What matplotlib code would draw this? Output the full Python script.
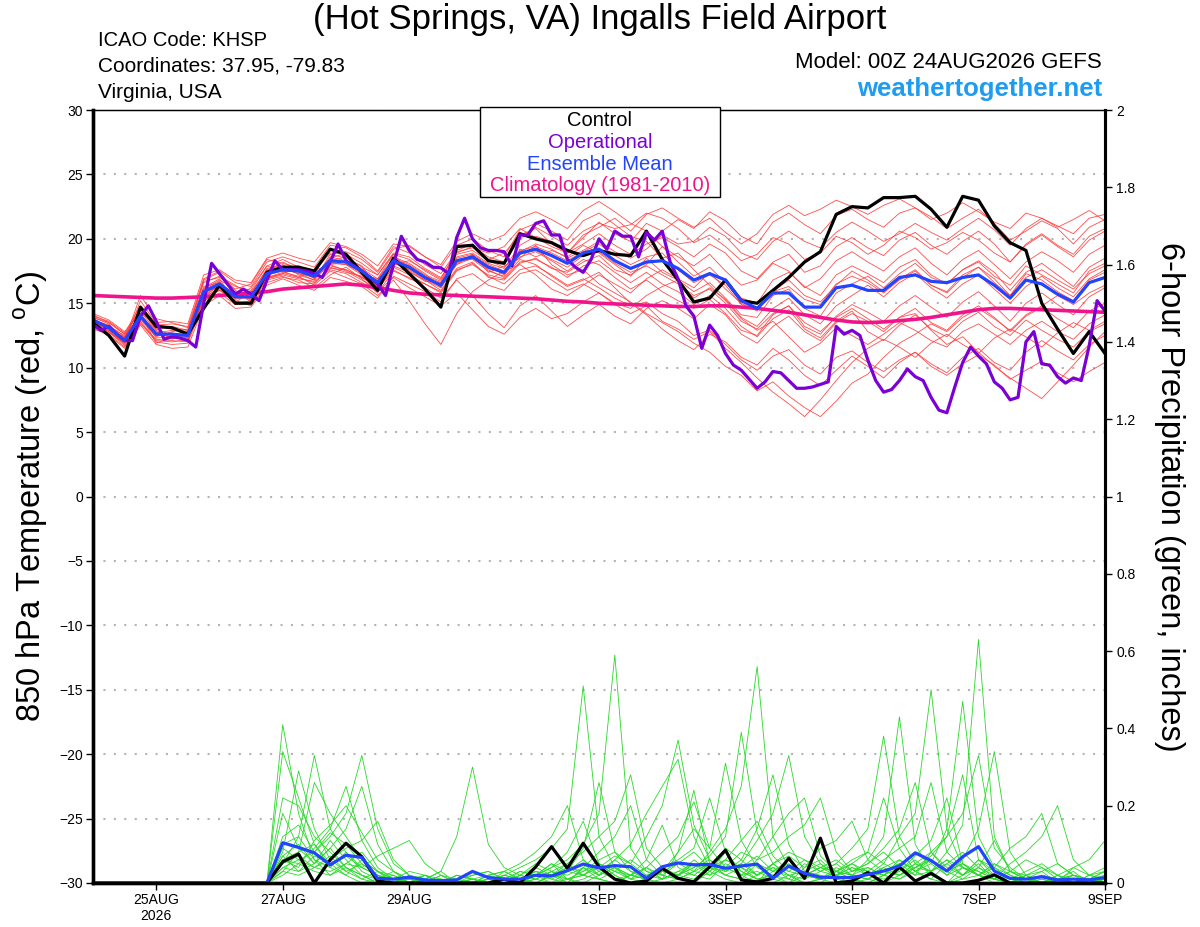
import numpy as np
import matplotlib
matplotlib.use('Agg')
import matplotlib.pyplot as plt
from matplotlib.patches import Rectangle

plt.rcParams['font.family'] = ['Liberation Sans', 'DejaVu Sans']
plt.rcParams['mathtext.fontset'] = 'custom'
plt.rcParams['mathtext.rm'] = 'Liberation Sans'

# forecast starts 00Z 24AUG2026, ensemble every 6h, operational every 3h
tick_hours = [24, 72, 120, 192, 240, 288, 336, 384]
tick_labels = ['25AUG\n2026', '27AUG', '29AUG', '1SEP', '3SEP', '5SEP', '7SEP', '9SEP']

control_t = [13.5, 12.5, 10.9, 14.7, 13.2, 13.1, 12.6, 14.6, 16.4, 15.0, 15.0, 17.4, 17.8,
             17.8, 17.5, 19.2, 18.8, 17.4, 16.0, 18.5, 17.3, 16.1, 14.7, 19.4, 19.5,
             18.3, 18.1, 20.4, 20.0, 19.7, 19.1, 18.7, 19.1, 18.8, 18.7, 20.6, 18.4,
             16.8, 15.1, 15.4, 16.8, 15.2, 15.0, 16.0, 17.0, 18.2, 19.0, 21.9, 22.5,
             22.4, 23.2, 23.2, 23.3, 22.3, 20.9, 23.3, 23.0, 21.0, 19.7, 19.1, 15.0, 13.0, 11.1, 12.8, 11.1]

ens_mean_t = [13.7, 13.1, 12.1, 14.0, 12.6, 12.6, 12.5, 15.9, 16.5, 15.5, 15.5, 17.3, 17.6,
              17.5, 17.1, 18.3, 18.2, 17.5, 16.6, 18.3, 17.8, 17.0, 16.4, 18.3, 18.6,
              17.8, 17.4, 18.9, 19.2, 18.7, 18.1, 18.9, 19.2, 18.3, 17.7, 18.2, 18.3,
              17.7, 16.8, 17.3, 16.8, 15.2, 14.6, 15.8, 15.8, 14.7, 14.7, 16.2, 16.4,
              16.0, 16.0, 17.0, 17.2, 16.7, 16.6, 17.0, 17.2, 16.4, 15.4, 16.8, 16.5, 15.7, 15.1, 16.6, 17.0]

climo_t = [15.6, 15.55, 15.5, 15.45, 15.4, 15.4, 15.45, 15.5, 15.6, 15.7, 15.8, 15.9, 16.1,
           16.2, 16.3, 16.4, 16.5, 16.4, 16.2, 16.0, 15.8, 15.7, 15.65, 15.6, 15.55,
           15.5, 15.45, 15.4, 15.35, 15.25, 15.15, 15.1, 15.0, 14.95, 14.9, 14.85, 14.8,
           14.75, 14.75, 14.8, 14.8, 14.7, 14.6, 14.45, 14.3, 14.1, 13.9, 13.7, 13.55,
           13.5, 13.55, 13.65, 13.75, 13.9, 14.1, 14.3, 14.5, 14.6, 14.6, 14.55, 14.5, 14.45, 14.4, 14.35, 14.3]

operational_t = [13.35, 12.9, 13.2, 12.6, 12.1, 12.1, 14.0, 14.8, 13.6, 12.2,
                 12.4, 12.3, 12.1, 11.6, 15.0, 18.1, 17.3, 16.5, 15.7, 16.1,
                 15.7, 15.2, 16.8, 18.3, 17.6, 17.6, 17.6, 17.5, 17.3, 17.0,
                 18.2, 19.6, 18.3, 17.9, 17.5, 17.0, 16.5, 15.6, 18.0, 20.2,
                 19.1, 18.4, 18.2, 17.8, 17.75, 17.3, 20.1, 21.6, 20.0, 19.3,
                 19.1, 19.1, 19.0, 17.9, 20.3, 20.3, 21.2, 21.4, 20.3, 20.3,
                 18.4, 17.8, 17.4, 18.4, 20.0, 19.2, 20.6, 20.2, 20.2, 18.6,
                 20.5, 19.9, 20.6, 18.2, 16.9, 14.8, 14.0, 11.5, 13.3, 12.5,
                 11.1, 10.2, 9.8, 9.1, 8.4, 8.9, 9.7, 9.6, 9.0, 8.4,
                 8.4, 8.5, 8.7, 8.9, 13.2, 12.6, 12.9, 12.5, 10.6, 9.0,
                 8.1, 8.3, 9.0, 9.9, 9.3, 9.0, 7.7, 6.7, 6.5, 8.5,
                 10.4, 11.6, 10.9, 10.3, 8.9, 8.4, 7.5, 7.7, 12.0, 12.8,
                 10.3, 10.2, 9.3, 8.8, 9.2, 9.0, 11.7, 15.2, 14.4]

temp_members = [
    [13.5, 13.0, 12.4, 14.6, 12.9, 12.2, 12.8, 16.2, 16.9, 15.1, 15.8, 17.6, 18.0,
     17.2, 16.8, 18.8, 18.5, 17.9, 16.2, 18.0, 18.3, 17.6, 16.9, 19.1, 19.6,
     18.4, 18.9, 20.3, 20.8, 19.6, 18.9, 20.1, 21.3, 20.4, 19.8, 21.2, 20.6,
     21.5, 20.8, 22.1, 21.4, 20.2, 19.6, 21.3, 22.0, 21.1, 20.4, 21.8, 22.3,
     21.5, 20.9, 22.0, 22.4, 21.7, 20.8, 21.6, 22.3, 21.2, 19.9, 20.6, 21.4, 20.8, 19.6, 20.9, 21.5],
    [13.8, 12.9, 11.8, 13.6, 12.1, 12.0, 12.2, 15.4, 16.2, 15.9, 15.1, 17.0, 17.3,
     17.8, 17.4, 18.0, 17.5, 16.8, 16.1, 17.6, 16.9, 16.5, 15.8, 17.5, 18.1,
     17.1, 16.5, 17.6, 17.9, 17.2, 16.4, 16.9, 16.2, 15.4, 14.8, 15.1, 14.2,
     13.6, 12.5, 12.9, 11.8, 10.6, 9.8, 10.9, 11.4, 10.2, 9.5, 10.8, 11.3,
     10.4, 9.7, 10.6, 11.2, 10.1, 9.4, 10.3, 11.0, 10.2, 9.1, 9.8, 10.5, 9.6, 8.9, 9.7, 10.4],
    [14.1, 13.5, 12.6, 13.9, 13.0, 13.2, 12.9, 16.8, 17.4, 16.0, 15.2, 17.5, 18.2,
     17.6, 16.9, 18.5, 18.9, 17.2, 16.9, 18.8, 17.5, 16.7, 16.6, 18.0, 18.8,
     17.4, 17.9, 18.5, 19.5, 18.0, 17.2, 17.6, 16.5, 15.8, 15.1, 14.2, 13.5,
     12.8, 11.9, 11.2, 10.1, 9.4, 8.2, 8.9, 7.8, 6.9, 6.2, 7.4, 8.8,
     9.5, 10.8, 11.9, 12.6, 13.4, 12.8, 13.9, 14.6, 13.8, 12.9, 14.1, 14.8, 15.6, 14.9, 15.8, 16.4],
    [13.2, 12.8, 12.0, 15.2, 13.4, 13.0, 12.5, 15.6, 16.0, 15.4, 16.2, 17.9, 17.5,
     17.0, 17.6, 17.9, 17.6, 17.0, 16.5, 18.6, 18.1, 17.3, 16.2, 18.3, 18.4,
     17.5, 17.1, 19.2, 18.6, 19.1, 18.6, 19.5, 18.9, 18.0, 17.1, 18.5, 17.4,
     16.8, 15.9, 16.6, 15.4, 14.1, 13.9, 15.6, 16.1, 14.6, 14.0, 15.8, 16.5,
     17.1, 16.2, 17.3, 18.1, 17.0, 16.5, 17.6, 18.2, 17.1, 16.4, 17.9, 17.2, 16.5, 15.8, 17.5, 18.1],
    [13.6, 13.3, 12.2, 13.8, 12.4, 12.8, 13.0, 16.6, 17.1, 16.4, 15.6, 17.1, 17.8,
     17.9, 17.3, 19.2, 19.0, 18.4, 17.4, 19.2, 19.5, 18.6, 17.8, 19.5, 20.0,
     19.1, 18.6, 20.7, 21.2, 20.6, 19.9, 21.4, 22.0, 21.1, 20.2, 19.8, 18.5,
     18.9, 17.6, 16.4, 15.2, 13.8, 12.9, 13.6, 12.4, 11.2, 11.9, 13.1, 12.5,
     11.8, 12.6, 13.5, 12.9, 12.1, 11.6, 12.8, 13.4, 12.6, 11.8, 12.9, 13.6, 12.8, 12.2, 13.4, 14.1],
    [13.4, 13.2, 12.5, 14.1, 11.9, 12.4, 12.1, 15.2, 15.8, 14.9, 15.0, 16.8, 17.1,
     16.6, 16.5, 17.8, 17.4, 17.1, 16.0, 17.9, 17.4, 16.8, 16.0, 17.7, 18.2,
     17.0, 16.8, 18.1, 18.5, 17.7, 17.4, 18.2, 18.7, 17.6, 17.2, 18.0, 19.4,
     18.6, 17.9, 18.8, 17.5, 16.4, 16.8, 18.1, 17.5, 16.2, 16.9, 18.3, 19.0,
     18.2, 17.5, 18.6, 19.3, 18.1, 17.2, 18.4, 19.1, 18.0, 16.9, 18.2, 19.0, 18.3, 17.4, 18.8, 19.5],
    [13.9, 13.4, 12.0, 14.4, 12.8, 12.3, 12.6, 15.7, 16.6, 15.7, 15.4, 17.0, 17.4,
     17.1, 16.4, 17.5, 17.0, 16.5, 15.6, 16.8, 15.2, 13.4, 11.8, 14.2, 15.9,
     16.8, 17.5, 18.0, 17.2, 16.1, 15.6, 16.4, 17.2, 16.5, 15.8, 16.9, 17.6,
     16.9, 16.2, 17.4, 16.1, 15.0, 14.4, 15.9, 16.8, 15.6, 15.1, 16.4, 17.5,
     16.8, 15.9, 16.9, 17.6, 16.4, 15.8, 17.0, 17.8, 16.9, 15.6, 17.3, 16.8, 15.9, 15.2, 16.8, 17.4],
    [13.0, 12.6, 11.6, 13.5, 12.0, 11.8, 11.9, 15.1, 16.1, 15.2, 14.8, 16.6, 17.0,
     16.8, 16.2, 17.2, 17.8, 16.9, 15.8, 17.5, 17.0, 16.2, 15.4, 16.8, 15.6,
     14.2, 13.1, 14.8, 15.6, 14.4, 13.2, 14.1, 14.9, 14.0, 13.4, 14.6, 15.2,
     14.6, 13.8, 14.9, 14.1, 12.6, 11.9, 13.2, 14.0, 12.8, 12.1, 13.5, 14.2,
     13.6, 12.8, 13.9, 14.6, 13.5, 12.9, 14.1, 14.8, 13.9, 12.8, 14.0, 14.7, 13.8, 13.1, 14.4, 15.0],
    [14.0, 13.6, 12.7, 14.8, 13.3, 13.4, 13.2, 16.9, 17.5, 16.6, 16.3, 18.2, 18.6,
     18.2, 17.8, 19.5, 19.3, 18.6, 17.5, 19.4, 18.9, 18.0, 17.3, 19.0, 19.3,
     18.9, 19.4, 20.8, 20.1, 19.4, 18.9, 20.3, 20.9, 21.6, 20.6, 21.9, 22.4,
     21.6, 20.9, 21.6, 20.5, 19.6, 20.4, 21.9, 22.6, 21.8, 22.3, 23.0, 22.5,
     21.9, 22.6, 23.1, 22.4, 21.5, 22.0, 22.8, 22.1, 21.3, 20.8, 22.0, 21.6, 20.9, 21.5, 22.2, 21.4],
    [13.3, 12.7, 11.9, 13.7, 12.5, 12.6, 12.3, 15.8, 16.3, 15.6, 15.5, 17.4, 17.7,
     17.3, 16.8, 18.1, 18.0, 17.4, 16.8, 18.2, 17.6, 16.8, 16.2, 18.0, 18.5,
     17.6, 17.0, 18.4, 18.0, 17.1, 16.3, 16.8, 17.4, 16.2, 15.0, 14.1, 13.0,
     12.1, 11.4, 12.6, 12.0, 10.8, 10.2, 11.5, 10.6, 9.4, 8.6, 9.8, 10.9,
     10.1, 9.2, 10.4, 11.2, 10.3, 9.6, 10.8, 11.5, 10.4, 9.8, 11.2, 12.1, 11.3, 10.6, 11.8, 12.5],
    [13.7, 13.1, 12.3, 14.0, 12.7, 12.9, 12.8, 16.0, 16.7, 15.3, 15.7, 17.7, 17.9,
     17.4, 17.0, 18.6, 18.3, 17.7, 16.9, 18.5, 18.0, 17.2, 16.7, 18.6, 18.9,
     18.1, 17.7, 19.5, 20.2, 19.8, 18.9, 19.6, 20.4, 19.5, 18.8, 19.6, 20.1,
     19.4, 18.6, 19.6, 18.9, 17.5, 16.9, 18.2, 18.8, 17.4, 17.9, 19.4, 20.1,
     19.3, 18.7, 19.9, 20.5, 19.5, 18.8, 19.8, 20.6, 19.6, 18.2, 19.5, 20.3, 19.4, 18.6, 19.9, 20.6],
    [13.5, 12.8, 11.7, 13.4, 12.2, 12.1, 12.0, 15.5, 16.4, 15.8, 15.3, 17.2, 17.6,
     17.6, 17.2, 18.4, 18.1, 17.3, 16.4, 18.1, 17.7, 16.9, 16.5, 18.2, 18.7,
     17.9, 17.2, 18.6, 19.0, 18.3, 17.5, 18.4, 18.0, 17.0, 16.1, 16.8, 15.9,
     15.2, 14.6, 15.3, 14.2, 12.9, 12.5, 14.1, 14.8, 13.2, 12.6, 14.0, 14.9,
     14.3, 13.6, 14.8, 15.6, 14.7, 13.9, 15.1, 15.9, 14.8, 13.6, 15.0, 15.8, 14.9, 14.1, 15.5, 16.2],
    [14.2, 13.7, 12.8, 14.2, 13.5, 13.6, 13.4, 17.2, 17.6, 16.8, 16.6, 18.5, 18.9,
     18.5, 18.2, 19.7, 19.4, 18.8, 17.9, 19.6, 19.4, 18.6, 18.0, 19.8, 20.4,
     19.8, 20.3, 21.6, 22.1, 21.5, 20.8, 22.2, 22.9, 22.1, 21.2, 20.6, 19.4,
     18.2, 17.1, 17.8, 16.6, 15.4, 15.0, 16.8, 17.4, 16.3, 15.6, 17.2, 17.9,
     17.3, 16.6, 17.8, 18.4, 17.2, 16.5, 17.6, 18.3, 17.4, 16.0, 17.4, 18.1, 17.2, 16.3, 17.8, 18.5],
    [13.1, 12.5, 11.5, 13.3, 11.8, 11.5, 11.6, 14.8, 15.6, 14.6, 14.7, 16.4, 16.9,
     16.4, 16.0, 17.0, 16.7, 16.3, 15.4, 17.1, 16.5, 15.9, 15.1, 16.9, 17.3,
     16.4, 16.0, 17.3, 17.6, 16.8, 16.0, 16.5, 15.8, 14.9, 14.2, 14.8, 13.6,
     13.0, 12.2, 12.8, 11.5, 10.4, 9.2, 8.1, 7.2, 6.2, 7.5, 9.0, 10.4,
     11.5, 12.2, 11.6, 10.8, 11.9, 12.6, 11.8, 11.1, 12.3, 13.0, 12.4, 11.6, 12.7, 13.5, 12.9, 13.6],
    [13.6, 13.0, 12.1, 15.6, 13.8, 13.5, 13.1, 16.1, 16.8, 16.1, 16.5, 18.4, 18.1,
     17.7, 17.2, 18.3, 18.6, 17.8, 17.2, 18.8, 18.4, 17.5, 16.8, 18.8, 19.1,
     18.3, 17.8, 19.0, 19.6, 19.2, 18.5, 19.1, 19.8, 19.0, 18.5, 19.2, 20.3,
     19.6, 19.8, 20.9, 20.2, 18.9, 18.4, 19.8, 20.6, 19.8, 19.3, 20.5, 21.3,
     20.6, 19.8, 20.4, 21.2, 20.5, 19.9, 20.8, 21.6, 20.7, 19.5, 20.8, 21.6, 21.0, 20.4, 21.6, 21.9],
    [13.8, 13.2, 12.2, 14.2, 12.6, 12.7, 12.4, 15.9, 16.2, 15.0, 15.2, 16.9, 17.2,
     16.9, 16.7, 17.6, 17.3, 16.6, 15.9, 17.0, 16.2, 15.5, 14.8, 15.8, 14.5,
     13.2, 12.6, 13.9, 14.6, 13.8, 14.2, 15.1, 15.8, 15.0, 14.6, 15.6, 16.3,
     16.8, 15.4, 16.2, 15.3, 13.9, 13.2, 14.6, 15.4, 14.1, 13.4, 14.8, 15.6,
     16.4, 15.5, 16.6, 17.3, 16.2, 15.4, 16.5, 17.2, 16.1, 15.0, 16.3, 17.1, 16.2, 15.5, 16.9, 17.6],
    [13.4, 13.0, 12.3, 14.7, 13.0, 12.5, 12.6, 16.3, 16.6, 15.5, 15.9, 17.5, 17.7,
     17.3, 17.0, 18.0, 18.2, 17.6, 16.7, 18.4, 17.9, 17.1, 16.6, 18.5, 18.8,
     18.0, 17.5, 19.1, 19.4, 18.9, 18.3, 19.0, 19.6, 18.7, 18.0, 18.6, 18.9,
     17.6, 16.6, 17.2, 16.4, 14.9, 14.5, 15.9, 16.3, 15.3, 14.9, 16.5, 17.1,
     16.6, 15.8, 16.8, 17.5, 16.4, 15.9, 17.2, 17.8, 16.6, 15.6, 17.0, 17.6, 16.8, 16.1, 17.3, 17.9],
    [13.7, 13.3, 12.4, 13.9, 12.3, 12.4, 12.3, 15.6, 16.4, 15.4, 15.4, 17.2, 17.5,
     17.5, 17.3, 18.2, 18.0, 17.2, 16.5, 18.1, 17.7, 16.9, 16.3, 18.1, 18.6,
     17.7, 17.3, 18.8, 19.1, 18.4, 17.8, 18.7, 19.0, 18.1, 17.4, 17.9, 17.2,
     16.5, 15.6, 16.1, 15.0, 13.6, 13.0, 14.2, 14.8, 13.5, 12.8, 13.9, 14.6,
     13.8, 13.0, 13.9, 14.2, 12.9, 11.8, 12.4, 11.2, 10.1, 9.2, 8.4, 7.6, 8.9, 10.2, 11.6, 12.8],
    [13.9, 13.5, 12.6, 14.5, 13.2, 13.0, 12.9, 16.7, 17.0, 16.3, 16.0, 17.9, 18.4,
     17.8, 17.5, 18.9, 18.8, 18.1, 17.2, 18.9, 18.6, 17.7, 17.0, 18.9, 19.4,
     18.6, 18.2, 20.0, 20.9, 20.2, 19.5, 20.6, 21.2, 20.8, 21.1, 22.0, 21.6,
     20.8, 19.7, 20.3, 19.4, 18.3, 18.8, 20.1, 19.6, 18.4, 18.9, 20.2, 19.7,
     18.8, 19.5, 20.6, 20.1, 19.2, 19.7, 20.5, 19.9, 18.9, 18.2, 19.6, 20.4, 19.5, 18.8, 20.2, 20.8],
    [13.2, 12.9, 11.9, 14.1, 12.7, 12.3, 12.2, 15.3, 16.0, 15.1, 15.1, 16.9, 17.3,
     17.0, 16.6, 17.7, 17.6, 17.0, 16.3, 17.8, 17.2, 16.5, 15.9, 17.6, 18.0,
     17.2, 16.9, 18.2, 18.4, 17.8, 17.0, 17.9, 18.3, 17.4, 16.6, 17.4, 16.5,
     15.9, 14.9, 15.6, 14.6, 13.2, 12.4, 13.8, 14.5, 13.0, 12.3, 13.6, 14.4,
     12.8, 12.1, 13.3, 14.1, 13.0, 12.4, 13.6, 14.3, 13.2, 12.5, 13.7, 12.9, 12.2, 11.6, 12.8, 13.4],
]

control_p = [0, 0, 0, 0, 0, 0, 0, 0, 0, 0, 0, 0, 0.055,
             0.075, 0, 0.06, 0.103, 0.068, 0.005, 0, 0, 0, 0, 0, 0,
             0, 0.01, 0, 0.042, 0.094, 0.038, 0.103, 0.042, 0.01, 0, 0.005, 0.038,
             0.012, 0.003, 0.042, 0.085, 0.008, 0.003, 0.012, 0.064, 0.012, 0.116, 0, 0.005,
             0.027, 0, 0.041, 0.005, 0.025, 0, 0, 0.007, 0.021, 0, 0, 0, 0, 0, 0, 0]

ens_mean_p = [0, 0, 0, 0, 0, 0, 0, 0, 0, 0, 0, 0, 0.104,
              0.092, 0.078, 0.047, 0.072, 0.066, 0.012, 0.01, 0.015, 0.008, 0.006, 0.008, 0.03,
              0.014, 0.01, 0.01, 0.02, 0.018, 0.032, 0.049, 0.039, 0.045, 0.042, 0.012, 0.042,
              0.052, 0.047, 0.048, 0.038, 0.044, 0.049, 0.012, 0.044, 0.025, 0.015, 0.014, 0.014,
              0.022, 0.031, 0.044, 0.078, 0.058, 0.031, 0.068, 0.094, 0.031, 0.012, 0.01, 0.016, 0.008, 0.01, 0.008, 0.014]

dry = [0] * 12  # no precip in any member before 27AUG
precip_members = [
    dry + [0.41, 0.18, 0.06, 0.02, 0.05, 0.08, 0.03, 0, 0, 0.02, 0, 0, 0.01,
           0, 0, 0.02, 0.05, 0.03, 0, 0.04, 0.08, 0.12, 0.20, 0.06, 0.02,
           0.01, 0, 0.03, 0.08, 0.02, 0, 0.05, 0.02, 0, 0.01, 0.04, 0.02,
           0.06, 0.12, 0.43, 0.10, 0.03, 0, 0.02, 0.05, 0.01, 0, 0.02, 0, 0, 0.01, 0, 0.02],
    dry + [0.34, 0.22, 0.10, 0.04, 0.02, 0, 0.01, 0.03, 0, 0, 0.01, 0, 0,
           0, 0.01, 0, 0.02, 0.04, 0.08, 0.16, 0.05, 0.02, 0, 0.01, 0.03,
           0.02, 0.06, 0.03, 0.01, 0, 0.02, 0.04, 0.01, 0, 0, 0.03, 0.05,
           0.08, 0.22, 0.09, 0.03, 0.01, 0, 0.04, 0.02, 0, 0, 0.01, 0.03, 0, 0, 0.01, 0],
    dry + [0.22, 0.20, 0.12, 0.08, 0.04, 0.02, 0, 0, 0.01, 0, 0, 0.02, 0.01,
           0, 0, 0.01, 0, 0.02, 0.03, 0.06, 0.02, 0.04, 0.01, 0, 0.01,
           0.08, 0.24, 0.05, 0.02, 0.01, 0, 0.03, 0.06, 0.02, 0.01, 0, 0.02,
           0.01, 0.03, 0.05, 0.02, 0.08, 0.12, 0.28, 0.06, 0.02, 0, 0, 0.01, 0, 0, 0, 0.01],
    dry + [0.18, 0.09, 0.05, 0.11, 0.06, 0.02, 0, 0, 0, 0.01, 0.03, 0, 0,
           0, 0, 0, 0.01, 0.03, 0.01, 0.02, 0.05, 0.03, 0.02, 0.06, 0.15,
           0.04, 0.02, 0.01, 0.05, 0.03, 0.01, 0.02, 0, 0.04, 0.06, 0.02, 0.01,
           0, 0.02, 0.04, 0.08, 0.05, 0.02, 0.06, 0.14, 0.34, 0.08, 0.02, 0, 0.01, 0, 0, 0],
    dry + [0.12, 0.15, 0.08, 0.13, 0.10, 0.05, 0.02, 0.01, 0, 0, 0, 0.01, 0.02,
           0.03, 0.01, 0, 0.02, 0.05, 0.03, 0.09, 0.26, 0.08, 0.03, 0.01, 0,
           0.01, 0.03, 0.02, 0.06, 0.04, 0.01, 0, 0.02, 0.03, 0.05, 0.02, 0.04,
           0.02, 0.05, 0.03, 0.07, 0.11, 0.22, 0.05, 0.03, 0.01, 0, 0.02, 0.04, 0.01, 0, 0, 0.01],
    dry + [0.08, 0.29, 0.14, 0.06, 0.03, 0.01, 0, 0, 0.01, 0.02, 0, 0, 0,
           0.01, 0, 0.02, 0.01, 0, 0.03, 0.02, 0.05, 0.03, 0.01, 0.04, 0.02,
           0.05, 0.03, 0.08, 0.14, 0.25, 0.56, 0.12, 0.04, 0.02, 0.01, 0.03, 0.05,
           0.02, 0.01, 0.03, 0.06, 0.02, 0, 0.01, 0.04, 0.02, 0.01, 0.03, 0.05, 0.02, 0.04, 0.06, 0.11],
    dry + [0.05, 0.12, 0.33, 0.14, 0.08, 0.04, 0.02, 0, 0, 0.01, 0, 0.02, 0.01,
           0, 0.02, 0.01, 0.03, 0.01, 0, 0.04, 0.02, 0.06, 0.10, 0.18, 0.25,
           0.32, 0.12, 0.04, 0.02, 0.01, 0.05, 0.03, 0.02, 0, 0.01, 0.03, 0.02,
           0.04, 0.02, 0.06, 0.03, 0.01, 0.05, 0.08, 0.04, 0.11, 0.03, 0.01, 0, 0.02, 0, 0.01, 0],
    dry + [0.03, 0.08, 0.26, 0.18, 0.12, 0.06, 0.03, 0.01, 0, 0, 0.02, 0.01, 0,
           0, 0, 0.03, 0.02, 0.05, 0.01, 0, 0.02, 0.04, 0.02, 0.01, 0.03,
           0.02, 0.05, 0.04, 0.09, 0.06, 0.14, 0.28, 0.10, 0.03, 0.02, 0.01, 0,
           0.01, 0.03, 0.02, 0.04, 0.06, 0.03, 0.01, 0.02, 0.05, 0.02, 0, 0.01, 0, 0, 0.02, 0.01],
    dry + [0.02, 0.05, 0.09, 0.14, 0.25, 0.11, 0.04, 0.01, 0, 0, 0.01, 0, 0,
           0.02, 0.01, 0, 0.01, 0.03, 0.05, 0.02, 0.01, 0, 0.02, 0.04, 0.08,
           0.12, 0.21, 0.09, 0.04, 0.02, 0.03, 0.01, 0, 0.02, 0.04, 0.03, 0.06,
           0.08, 0.05, 0.12, 0.18, 0.50, 0.14, 0.04, 0.02, 0.01, 0, 0, 0.02, 0.01, 0, 0, 0],
    dry + [0.06, 0.04, 0.11, 0.15, 0.20, 0.13, 0.06, 0.03, 0.01, 0, 0, 0, 0.01,
           0, 0.03, 0.01, 0, 0.02, 0.01, 0.03, 0.05, 0.02, 0, 0.01, 0.04,
           0.06, 0.09, 0.22, 0.08, 0.03, 0.01, 0.02, 0.04, 0.02, 0.01, 0.03, 0.02,
           0.01, 0.04, 0.02, 0.05, 0.03, 0.08, 0.15, 0.63, 0.12, 0.03, 0.01, 0, 0.02, 0.01, 0, 0.01],
    dry + [0.04, 0.06, 0.08, 0.12, 0.18, 0.33, 0.14, 0.05, 0.02, 0.01, 0, 0, 0,
           0.01, 0, 0.02, 0.04, 0.02, 0, 0.01, 0.03, 0.06, 0.03, 0.02, 0.01,
           0.03, 0.05, 0.02, 0.04, 0.08, 0.06, 0.12, 0.18, 0.22, 0.07, 0.03, 0.01,
           0, 0.02, 0.01, 0.04, 0.06, 0.03, 0.05, 0.02, 0.01, 0.03, 0.06, 0.04, 0.02, 0, 0.01, 0.03],
    dry + [0.07, 0.03, 0.05, 0.09, 0.14, 0.25, 0.10, 0.03, 0.01, 0, 0.02, 0, 0,
           0, 0.01, 0.03, 0.02, 0, 0.01, 0.02, 0.04, 0.07, 0.05, 0.02, 0.03,
           0.08, 0.14, 0.09, 0.31, 0.11, 0.04, 0.02, 0.01, 0.05, 0.03, 0.02, 0.04,
           0.03, 0.02, 0.05, 0.04, 0.07, 0.12, 0.18, 0.33, 0.09, 0.04, 0.01, 0, 0, 0.02, 0.01, 0],
    dry + [0.05, 0.07, 0.04, 0.06, 0.09, 0.11, 0.16, 0.06, 0.02, 0.01, 0, 0, 0.01,
           0.02, 0.03, 0.01, 0, 0.02, 0.04, 0.02, 0.01, 0.03, 0.06, 0.03, 0.01,
           0.02, 0.04, 0.07, 0.12, 0.39, 0.13, 0.05, 0.02, 0.01, 0.03, 0.05, 0.02,
           0.01, 0, 0.02, 0.04, 0.03, 0.05, 0.02, 0.06, 0.04, 0.09, 0.12, 0.18, 0.05, 0.02, 0.01, 0],
    dry + [0.03, 0.02, 0.04, 0.03, 0.05, 0.04, 0.07, 0.09, 0.11, 0.05, 0.02, 0, 0,
           0.01, 0, 0, 0.02, 0.01, 0.03, 0.05, 0.02, 0.04, 0.01, 0.02, 0.03,
           0.05, 0.08, 0.04, 0.06, 0.11, 0.16, 0.07, 0.03, 0.02, 0.04, 0.03, 0.01,
           0.02, 0.04, 0.06, 0.03, 0.05, 0.14, 0.47, 0.12, 0.04, 0.02, 0.01, 0, 0.01, 0.02, 0, 0],
    dry + [0.06, 0.05, 0.03, 0.02, 0.04, 0.01, 0.03, 0.02, 0, 0.01, 0.03, 0.12, 0.30,
           0.10, 0.04, 0.02, 0.01, 0.03, 0.02, 0.04, 0.01, 0, 0.02, 0.01, 0.03,
           0.02, 0.04, 0.06, 0.03, 0.05, 0.11, 0.18, 0.33, 0.12, 0.05, 0.02, 0.03,
           0.04, 0.02, 0.01, 0.03, 0.06, 0.02, 0.04, 0.03, 0.01, 0.05, 0.08, 0.12, 0.20, 0.06, 0.02, 0.04],
    dry + [0.09, 0.06, 0.04, 0.07, 0.03, 0.05, 0.02, 0.01, 0.03, 0.02, 0, 0.01, 0,
           0.02, 0.03, 0.05, 0.08, 0.12, 0.20, 0.06, 0.03, 0.01, 0.02, 0.04, 0.01,
           0.03, 0.02, 0.05, 0.04, 0.02, 0.06, 0.08, 0.12, 0.15, 0.22, 0.08, 0.03,
           0.05, 0.08, 0.04, 0.02, 0.03, 0.06, 0.04, 0.02, 0.01, 0, 0.02, 0.03, 0.05, 0.02, 0.01, 0.02],
    dry + [0.10, 0.12, 0.06, 0.04, 0.08, 0.03, 0.01, 0, 0.02, 0, 0.01, 0, 0,
           0.01, 0.02, 0.04, 0.06, 0.09, 0.14, 0.51, 0.12, 0.04, 0.02, 0.01, 0.03,
           0.02, 0.01, 0.04, 0.03, 0.06, 0.02, 0.05, 0.07, 0.04, 0.09, 0.11, 0.16,
           0.06, 0.03, 0.02, 0.05, 0.08, 0.04, 0.02, 0.06, 0.03, 0.01, 0, 0.02, 0.01, 0.03, 0, 0.01],
    dry + [0.07, 0.10, 0.05, 0.09, 0.04, 0.02, 0.01, 0.02, 0, 0.01, 0, 0, 0.02,
           0.03, 0.01, 0, 0.02, 0.04, 0.06, 0.10, 0.18, 0.59, 0.09, 0.03, 0.02,
           0.01, 0.03, 0.05, 0.02, 0.04, 0.07, 0.03, 0.05, 0.02, 0.04, 0.06, 0.03,
           0.05, 0.09, 0.14, 0.26, 0.08, 0.03, 0.05, 0.02, 0.04, 0.01, 0, 0.02, 0.01, 0, 0.02, 0.03],
    dry + [0.04, 0.03, 0.07, 0.05, 0.02, 0.06, 0.03, 0.01, 0, 0.02, 0.01, 0, 0,
           0.02, 0, 0.01, 0.03, 0.02, 0.05, 0.08, 0.12, 0.16, 0.28, 0.09, 0.04,
           0.02, 0.05, 0.03, 0.06, 0.04, 0.02, 0.05, 0.08, 0.06, 0.03, 0.05, 0.09,
           0.14, 0.38, 0.12, 0.05, 0.03, 0.06, 0.02, 0.04, 0.01, 0.03, 0.02, 0, 0.01, 0.02, 0.01, 0.03],
    dry + [0.06, 0.08, 0.10, 0.05, 0.07, 0.04, 0.02, 0, 0.01, 0, 0, 0.02, 0.01,
           0, 0.02, 0.01, 0.03, 0.02, 0.04, 0.03, 0.06, 0.08, 0.05, 0.12, 0.20,
           0.37, 0.15, 0.06, 0.03, 0.05, 0.02, 0.04, 0.03, 0.06, 0.04, 0.02, 0.05,
           0.03, 0.06, 0.09, 0.12, 0.26, 0.08, 0.04, 0.02, 0.05, 0.03, 0.01, 0.02, 0, 0.04, 0.02, 0.01],
]

hours = np.arange(len(control_t)) * 6
op_hours = np.arange(len(operational_t)) * 3

fig = plt.figure(figsize=(12, 9.27), dpi=100)
ax = fig.add_axes([93 / 1200, 1 - 883 / 927, 1012 / 1200, 773 / 927])
ax2 = ax.twinx()

# temperature (left axis)
ax.grid(axis='y', color='#b4b4b4', linestyle=(0, (1, 4)), linewidth=1.5)
for m in temp_members:
    ax.plot(hours, m, color='#ff3a3a', lw=0.6, alpha=0.9)
ax.plot(hours, climo_t, color='#f0148c', lw=2.6)
ax.plot(hours, control_t, color='black', lw=2.3)
ax.plot(op_hours, operational_t, color='#7b00d6', lw=2.3)
ax.plot(hours, ens_mean_t, color='#2244ff', lw=2.3)

# precipitation (right axis)
for m in precip_members:
    ax2.plot(hours, m, color='#2ad82a', lw=0.6)
ax2.plot(hours, control_p, color='black', lw=2.3)
ax2.plot(hours, ens_mean_p, color='#2244ff', lw=2.3)

ax.set_xlim(0, 384)
ax.set_ylim(-30, 30)
ax.set_yticks(range(-30, 31, 5))
ax.set_xticks(tick_hours)
ax.set_xticklabels(tick_labels)
ax2.set_ylim(0, 2)
p_ticks = np.round(np.arange(0, 2.01, 0.2), 1)
ax2.set_yticks(p_ticks)
ax2.set_yticklabels([f'{v:g}' for v in p_ticks])

ax.tick_params(axis='both', direction='out', length=5, width=1, labelsize=10, pad=2)
ax2.tick_params(axis='y', direction='out', length=5, width=1, labelsize=10, pad=3)
for a in (ax, ax2):
    a.spines['left'].set_linewidth(2.4)
    a.spines['bottom'].set_linewidth(2.4)
    a.spines['right'].set_linewidth(2.2)
    a.spines['top'].set_linewidth(0.9)

fig.text(31 / 1200, 1 - 496 / 927, r'850 hPa Temperature (red, $^{\rm o}$C)',
         rotation=90, ha='center', va='center', fontsize=23.5)
fig.text(1170 / 1200, 1 - 497 / 927, '6-hour Precipitation (green, inches)',
         rotation=270, ha='center', va='center', fontsize=23.5)

# header
fig.text(0.5, 1 - 19 / 927, '(Hot Springs, VA) Ingalls Field Airport',
         ha='center', va='center', fontsize=25)
fig.text(98 / 1200, 1 - 40 / 927, 'ICAO Code: KHSP', ha='left', va='center', fontsize=14.5)
fig.text(98 / 1200, 1 - 66 / 927, 'Coordinates: 37.95, -79.83', ha='left', va='center', fontsize=15)
fig.text(98 / 1200, 1 - 92 / 927, 'Virginia, USA', ha='left', va='center', fontsize=15)
fig.text(1102 / 1200, 1 - 63 / 927, 'Model: 00Z 24AUG2026 GEFS', ha='right', va='center', fontsize=16)
fig.text(1102 / 1200, 1 - 89 / 927, 'weathertogether.net', ha='right', va='center',
         fontsize=18.5, fontweight='bold', color='#1e9cf0')

# legend box
fig.add_artist(Rectangle((480 / 1200, 1 - 197 / 927), 240 / 1200, 90 / 927,
                         transform=fig.transFigure, facecolor='white', edgecolor='black',
                         lw=1, zorder=5))
legend_items = [('Control', 'black'), ('Operational', '#7b00d6'),
                ('Ensemble Mean', '#2244ff'), ('Climatology (1981-2010)', '#f0148c')]
for k, (label, col) in enumerate(legend_items):
    t = fig.text(600 / 1200, 1 - (121 + 21.5 * k) / 927, label, ha='center', va='center',
                 fontsize=14.5, color=col)
    t.set_zorder(6)

fig.savefig('out.png', dpi=100)
